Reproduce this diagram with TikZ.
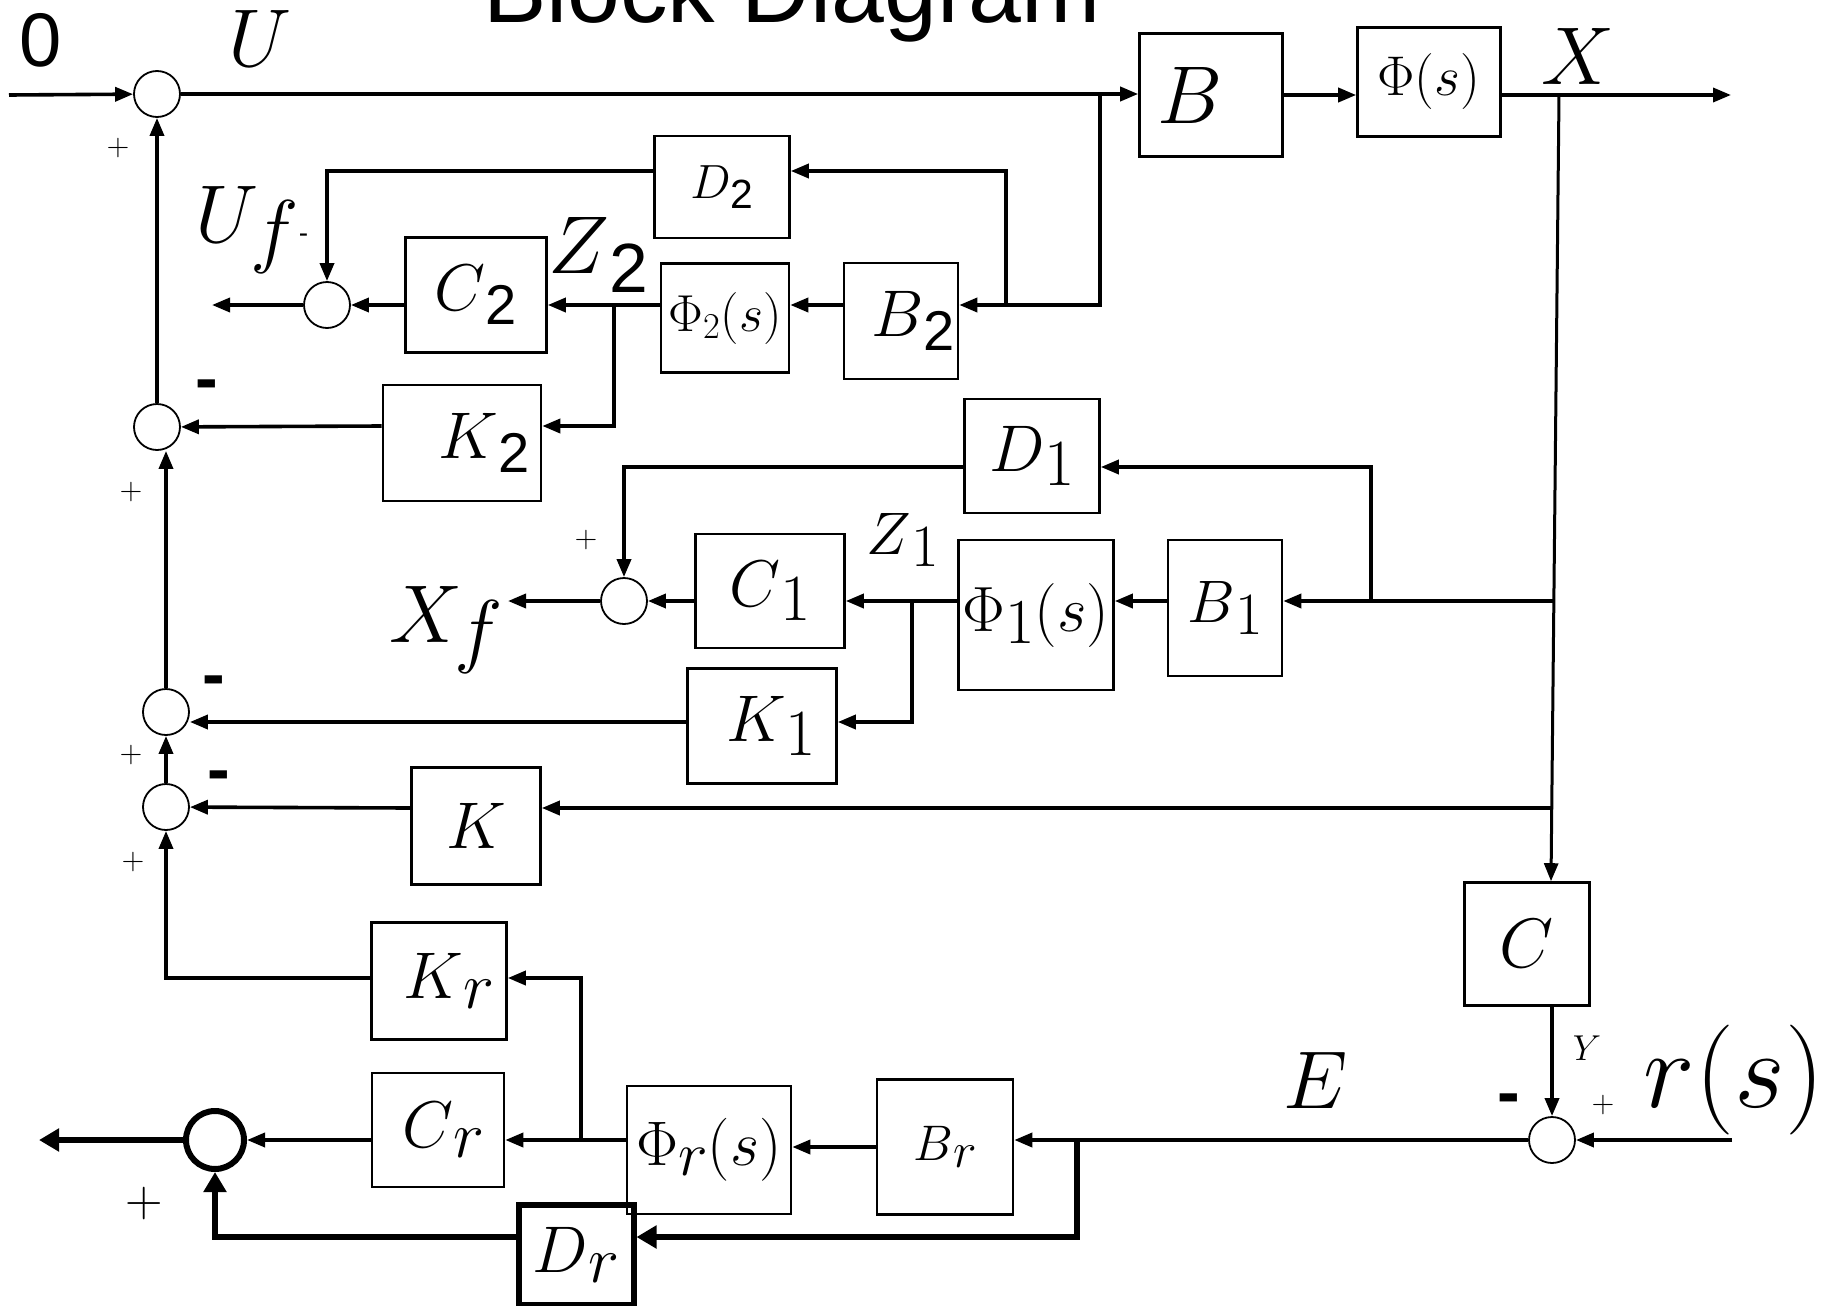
\RequirePackage{fix-cm}
\documentclass[tikz,border=0pt]{standalone}
\usepackage[no-math]{fontspec}
\setsansfont{Liberation Sans}
\usepackage{graphicx}
\usepackage{tikz}
\usetikzlibrary{arrows.meta,calc}

\newcommand{\fsz}[1]{\fontsize{#1}{#1}\selectfont}
\newcommand{\subone}{\raisebox{-0.2em}{$1$}}
\newcommand{\subtwo}{\raisebox{-0.22em}{\scalebox{0.85}{\sffamily 2}}}
\newcommand{\subr}{\raisebox{-0.15em}{$r$}}
\newcommand{\subf}{\hspace{-0.1em}\raisebox{-0.18em}{$f$}}

\tikzset{
  >={Triangle[length=9pt,width=7pt]},
  % --- nodes
  blk/.style   = {draw, line width=1.3pt, inner sep=0pt, align=center},
  sumj/.style  = {draw, circle, line width=0.9pt, minimum size=23pt, inner sep=0pt},
  sz/.style 2 args = {minimum width=0.5pt*#1, minimum height=0.5pt*#2},
  lbig/.style  = {font=\fsz{41}},
  lmid/.style  = {font=\fsz{33}},
  lsml/.style  = {font=\fsz{30}},
  ltiny/.style = {font=\fsz{24}},
  pls/.style   = {font=\fsz{15}, inner sep=0pt},
  mns/.style   = {font=\fsz{34}\sffamily\bfseries, inner sep=0pt},
  % --- edges
  e/.style     = {->, line width=1.8pt},
  ethk/.style  = {-{Triangle[length=10pt,width=11pt]}, line width=3.3pt},
}

\begin{document}
\begin{tikzpicture}[x=0.5pt, y=-0.5pt]
  \useasboundingbox (0,0) rectangle (1831,1306);
  \node[font=\fsz{47.5}\sffamily, anchor=base] (title) at (792,23) {Block Diagram};

  % --- plant
  \node[sumj] (s0) at (157,94) {};
  \node[blk, sz={143}{123}, lbig] (B) at (1211,95) {$B$\hspace{21pt}};
  \node[blk, sz={143}{109}, font=\fsz{28}] (Phi) at (1429,82) {$\Phi(s)$};

  % --- observer 2
  \node[blk, sz={114}{116}, lmid] (B2) at (901,321) {\hspace{12pt}$B$\subtwo};
  \node[blk, sz={135}{102}, ltiny] (D2) at (722,187) {$D$\subtwo};
  \node[blk, sz={128}{109}, font=\fsz{26}] (Phi2) at (725,318) {$\Phi_2(s)$};
  \node[blk, sz={141}{115}, lmid] (C2) at (476,295) {$C$\subtwo};
  \node[blk, sz={158}{116}, lmid] (K2) at (462,443) {\hspace{22pt}$K$\subtwo};
  \node[sumj] (suf) at (327,305) {};
  \node[sumj] (s2) at (157,427) {};

  % --- observer 1
  \node[blk, sz={135}{114}, font=\fsz{33}] (D1) at (1032,456) {$D$\subone};
  \node[blk, sz={114}{136}, lsml] (B1) at (1225,608) {$B$\subone};
  \node[blk, sz={155}{150}, font=\fsz{32}] (Phi1) at (1036,615) {$\Phi$\subone$(s)$};
  \node[blk, sz={149}{114}, lmid] (C1) at (770,591) {$C$\subone};
  \node[blk, sz={149}{115}, lmid] (K1) at (762,726) {\hspace{9pt}$K$\subone};
  \node[sumj] (s1) at (624,601) {};
  \node[sumj] (sk1) at (166,712) {};
  \node[sumj] (sk) at (166,807) {};
  \node[blk, sz={129}{117}, lmid] (K) at (476,826) {$K$};

  % --- reference model
  \node[blk, sz={135}{117}, lmid] (Kr) at (439,981) {\hspace{10pt}$K$\subr};
  \node[blk, sz={132}{114}, lmid] (Cr) at (438,1130) {\hspace{5pt}$C$\subr};
  \node[blk, sz={164}{128}, font=\fsz{31.5}] (Phir) at (709,1150) {$\Phi$\subr$(s)$};
  \node[blk, sz={136}{135}, font=\fsz{25}] (Br) at (945,1147) {$B$\subr};
  \node[blk, sz={115}{100}, lmid, line width=3pt] (Dr) at (576,1255) {$D$\subr};
  \node[sumj, minimum size=29pt, line width=3pt] (sr) at (215,1140) {};
  \node[blk, sz={125}{123}, font=\fsz{35}] (C) at (1527,944) {$C$};
  \node[sumj] (se) at (1552,1140) {};

  % --- signal labels
  \node[font=\fsz{38}\sffamily] (l0) at (41,40) {0};
  \node[lbig] (lU) at (260,38) {$U$};
  \node[lbig] (lX) at (1578,56) {$X$};
  \node[lbig] (lUf) at (252,230) {$U$\subf{\fsz{14}\sffamily -}};
  \node[lbig] (lZ2) at (598,255) {$Z$\subtwo};
  \node[lsml] (lZ1) at (903,540) {$Z$\subone};
  \node[lbig] (lXf) at (446,630) {$X$\subf};
  \node[font=\fsz{18}] (lY) at (1587,1048) {$Y$};
  \node[lbig] (lE) at (1316,1080) {$E$};
  \node[font=\fsz{55}] (lr) at (1734,1080) {$r(s)$};

  % --- signs
  \node[pls] (p0) at (118,148) {$+$};
  \node[pls] (p2) at (131,492) {$+$};
  \node[pls] (pk1) at (131,755) {$+$};
  \node[pls] (pk) at (133,862) {$+$};
  \node[pls] (p1) at (586,540) {$+$};
  \node[pls] (pe) at (1603,1105) {$+$};
  \node[pls, font=\fsz{26}] (pr) at (144,1203) {$+$};
  \node[mns] (m2) at (207,391) {-};
  \node[mns] (mk1) at (214,687) {-};
  \node[mns] (mk) at (219,782) {-};
  \node[mns] (me) at (1509,1105) {-};

  % --- junctions and free ends
  \coordinate (in0) at (9,95);
  \coordinate (out0) at (1731,95);
  \coordinate (jB2) at (1100,95);
  \coordinate (jD2) at (1006,305);
  \coordinate (jZ2) at (614,305);
  \coordinate (uf) at (212,305);
  \coordinate (jX) at (1559,95);
  \coordinate (jB1) at (1554,601);
  \coordinate (jD1) at (1371,601);
  \coordinate (jZ1) at (912,601);
  \coordinate (xf) at (508,601);
  \coordinate (jK) at (1552,808);
  \coordinate (rin) at (1732,1140);
  \coordinate (jDr) at (1077,1140);
  \coordinate (jKr) at (581,1140);
  \coordinate (rout) at (39,1140);

  % plant path
  \draw[e] (in0) -- (s0);
  \draw[e] (s0) -- (s0 -| B.west);
  \draw[e] (B.east |- 0,95) -- (Phi.west |- 0,95);
  \draw[e] (Phi.east |- 0,95) -- (out0);
  \draw[e, line width=1.5pt] (jX) -- (C.north -| 1551,0);

  % observer 2
  \draw[e] (jB2) |- (B2.east |- 0,305);
  \draw[e] (jD2) |- (D2.east |- 0,171);
  \draw[e] (D2.west |- 0,171) -| (suf);
  \draw[e] (B2.west |- 0,305) -- (Phi2.east |- 0,305);
  \draw[e] (Phi2.west |- 0,305) -- (C2.east |- 0,305);
  \draw[e] (jZ2) |- (K2.east |- 0,426);
  \draw[e] (C2.west |- 0,305) -- (suf);
  \draw[e] (suf) -- (uf);
  \draw[e] (K2.west |- 0,426) -- (s2);
  \draw[e] (s2) -- (s0);

  % observer 1
  \draw[e] (jB1) -- (B1.east |- jB1);
  \draw[e] (jD1) |- (D1.east |- 0,467);
  \draw[e] (B1.west |- 0,601) -- (Phi1.east |- 0,601);
  \draw[e] (Phi1.west |- 0,601) -- (C1.east |- 0,601);
  \draw[e] (jZ1) |- (K1.east |- 0,722);
  \draw[e] (C1.west |- 0,601) -- (s1);
  \draw[e] (s1) -- (xf);
  \draw[e] (D1.west |- 0,467) -| (s1);
  \draw[e] (K1.west |- 0,722) -- (sk1.east |- 0,722);
  \draw[e] (jK) -- (K.east |- jK);
  \draw[e] (K.west |- 0,808) -- (sk);
  \draw[e] (sk1.north) -- (sk1.north |- s2.south);
  \draw[e] (sk) -- (sk1);
  \draw[e] (Kr.west |- 0,978) -| (sk);

  % reference model
  \draw[e] (C.south -| se) -- (se);
  \draw[e] (rin) -- (se);
  \draw[e] (se) -- (Br.east |- se);
  \draw[ethk] (jDr) |- (Dr.east |- 0,1237);
  \draw[e] (Br.west |- 0,1147) -- (Phir.east |- 0,1147);
  \draw[e] (Phir.west |- 0,1140) -- (Cr.east |- 0,1140);
  \draw[e] (jKr) |- (Kr.east |- 0,978);
  \draw[e] (Cr.west |- 0,1140) -- (sr);
  \draw[ethk] (sr) -- (rout);
  \draw[ethk] (Dr.west |- 0,1237) -| (sr);
\end{tikzpicture}
\end{document}
